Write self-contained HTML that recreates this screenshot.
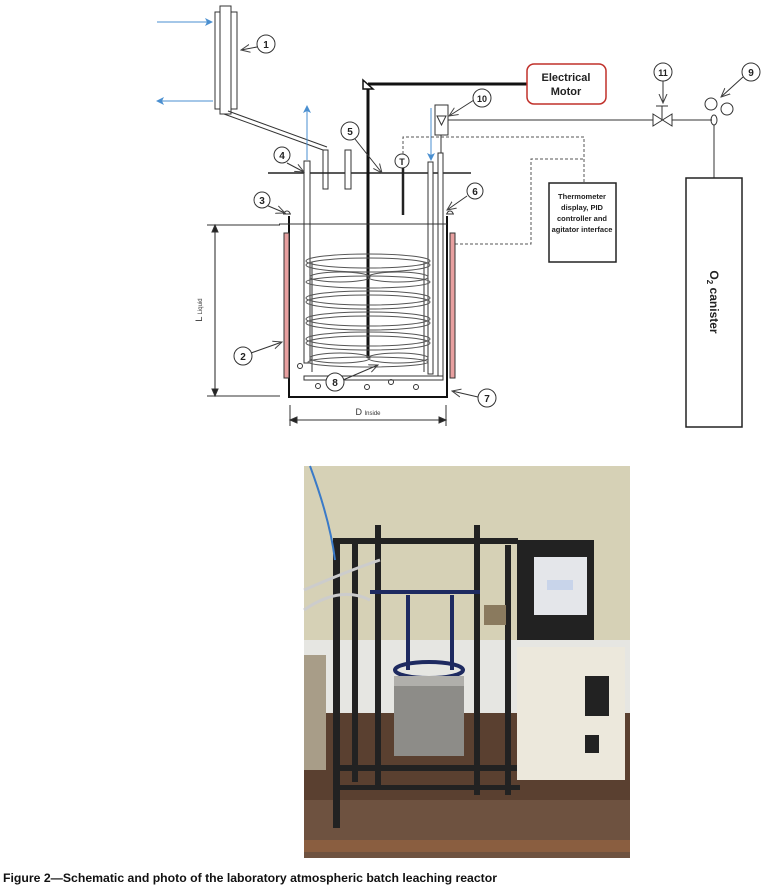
<!DOCTYPE html>
<html><head><meta charset="utf-8"><style>
html,body{margin:0;padding:0;background:#fff;width:767px;height:888px;overflow:hidden}
svg{position:absolute;left:0;top:0}
text{font-family:"Liberation Sans",sans-serif}
</style></head><body>
<svg width="767" height="888" viewBox="0 0 767 888">
<defs>
<marker id="ab" markerWidth="8" markerHeight="8" refX="7" refY="4" orient="auto" markerUnits="userSpaceOnUse"><path d="M0,0 L8,4 L0,8 L2,4 Z" fill="#4a8fd0"/></marker>
<marker id="ak" markerWidth="8" markerHeight="8" refX="7" refY="4" orient="auto" markerUnits="userSpaceOnUse"><path d="M0,1 L8,4 L0,7 Z" fill="#222"/></marker>
<marker id="av" markerWidth="10" markerHeight="10" refX="9" refY="5" orient="auto" markerUnits="userSpaceOnUse"><path d="M0,1 L9,5 L0,9" fill="none" stroke="#444" stroke-width="1"/></marker>
</defs>
<g stroke="#333" fill="none" stroke-width="1">
<!-- condenser -->
<rect x="215" y="12" width="22" height="97" fill="#fff"/>
<rect x="220" y="6" width="11" height="108" fill="#fff"/>
<path d="M224,114 L323,150 M228,111 L327,147" />
<rect x="323" y="150" width="5" height="39" fill="#fff"/>
<line x1="157" y1="22" x2="212" y2="22" stroke="#4a8fd0" marker-end="url(#ab)"/>
<line x1="213" y1="101" x2="157" y2="101" stroke="#4a8fd0" marker-end="url(#ab)"/>
<!-- lid -->
<line x1="268" y1="173" x2="471" y2="173" stroke="#222" stroke-width="1.5"/>
<rect x="304" y="161" width="6" height="202" fill="#fff"/>
<line x1="307" y1="160" x2="307" y2="106" stroke="#4a8fd0" marker-end="url(#ab)"/>
<rect x="345" y="150" width="6" height="39" fill="#fff"/>
<!-- right tubes -->
<rect x="428" y="162" width="5" height="212" fill="#fff"/>
<rect x="438" y="153" width="5" height="223" fill="#fff"/>
<path d="M304,376 L443,376 L443,380 L304,380 Z" fill="#fff"/>
<line x1="431" y1="108" x2="431" y2="160" stroke="#4a8fd0" marker-end="url(#ab)"/>
<line x1="441" y1="135" x2="441" y2="153"/>
<!-- flowmeter -->
<rect x="435" y="105" width="13" height="30" fill="#fff"/>
<path d="M437,116 L446,116 L441.5,125 Z"/>
<line x1="448" y1="120" x2="653" y2="120"/>
<!-- valve -->
<path d="M653,114 L672,126 L672,114 L653,126 Z"/>
<line x1="662" y1="120" x2="662" y2="106"/><line x1="656" y1="106" x2="668" y2="106"/>
<line x1="672" y1="120" x2="712" y2="120"/>
<circle cx="711" cy="104" r="6"/><circle cx="727" cy="109" r="6"/>
<ellipse cx="714" cy="120" rx="3" ry="5"/>
<line x1="714" y1="125" x2="714" y2="178"/>
<rect x="686" y="178" width="56" height="249" stroke-width="1.5" stroke="#222"/>
<!-- thermometer & dashed -->
<circle cx="402" cy="161" r="7" fill="#fff"/>
<line x1="403" y1="168" x2="403" y2="215" stroke="#222" stroke-width="2.5"/>
<path d="M403,154 L403,137 L584,137 L584,183 M455,244 L531,244 L531,159 L584,159" stroke-dasharray="3,2" stroke="#555"/>
<rect x="549" y="183" width="67" height="79" stroke-width="1.5" stroke="#222"/>
<!-- motor & shaft -->
<line x1="368" y1="87" x2="368" y2="358" stroke="#111" stroke-width="3"/>
<line x1="368" y1="84" x2="527" y2="84" stroke="#111" stroke-width="3"/>
<path d="M363,80 L373,89 L363,89 Z" fill="#fff" stroke="#111" stroke-width="1.5"/>
<rect x="527" y="64" width="79" height="40" rx="7" stroke="#c0302a" stroke-width="1.5" fill="#fff"/>
<!-- vessel -->
<path d="M289,216 L289,397 L447,397 L447,216" stroke="#111" stroke-width="2"/>
<line x1="279" y1="224" x2="447" y2="224"/>
<path d="M284,214 a3,3 0 0 1 6,0 Z M447,214 a3,3 0 0 1 6,0 Z" />
<line x1="283" y1="214" x2="291" y2="214"/><line x1="446" y1="214" x2="454" y2="214"/>
<rect x="284" y="233" width="5" height="145" fill="#e8a0a0"/>
<rect x="450" y="233" width="5" height="145" fill="#e8a0a0"/>
<!-- coils -->
<line x1="312" y1="262" x2="312" y2="372"/><line x1="424" y1="262" x2="424" y2="372"/>
<g stroke="#555">
<ellipse cx="368" cy="261" rx="62" ry="7"/><ellipse cx="368" cy="265" rx="62" ry="7"/>
<ellipse cx="340" cy="277" rx="30" ry="5"/><ellipse cx="398" cy="277" rx="30" ry="5"/>
<ellipse cx="368" cy="282" rx="62" ry="6"/>
<ellipse cx="368" cy="298" rx="62" ry="7"/><ellipse cx="368" cy="302" rx="62" ry="7"/>
<ellipse cx="368" cy="319" rx="62" ry="7"/><ellipse cx="368" cy="323" rx="62" ry="7"/>
<ellipse cx="368" cy="339" rx="62" ry="7"/><ellipse cx="368" cy="343" rx="62" ry="7"/>
<ellipse cx="340" cy="358" rx="30" ry="5"/><ellipse cx="398" cy="358" rx="30" ry="5"/>
<ellipse cx="368" cy="362" rx="60" ry="5"/>
</g>
<circle cx="300" cy="366" r="2.5"/><circle cx="318" cy="386" r="2.5"/><circle cx="367" cy="387" r="2.5"/><circle cx="391" cy="382" r="2.5"/><circle cx="416" cy="387" r="2.5"/>
<!-- dims -->
<line x1="207" y1="225" x2="280" y2="225"/><line x1="207" y1="396" x2="280" y2="396"/>
<line x1="215" y1="228" x2="215" y2="393" stroke="#222"/>
<path d="M212,232 L215,225 L218,232 Z M212,389 L215,396 L218,389 Z" fill="#222"/>
<line x1="290" y1="405" x2="290" y2="426"/><line x1="446" y1="405" x2="446" y2="426"/>
<line x1="292" y1="420" x2="444" y2="420"/>
<path d="M297,417 L290,420 L297,423 Z M439,417 L446,420 L439,423 Z" fill="#222"/>
<!-- leaders -->
<path d="M257,47 L241,50" marker-end="url(#av)"/>
<path d="M251,353 L282,342" marker-end="url(#av)"/>
<path d="M266,205 L285,213" marker-end="url(#av)"/>
<path d="M287,163 L304,172" marker-end="url(#av)"/>
<path d="M355,139 L382,173" marker-end="url(#av)"/>
<path d="M467,196 L447,210" marker-end="url(#av)"/>
<path d="M478,397 L452,391" marker-end="url(#av)"/>
<path d="M343,380 L378,365" marker-end="url(#av)"/>
<path d="M474,100 L449,116" marker-end="url(#av)"/>
<path d="M663,81 L663,103" marker-end="url(#av)"/>
<path d="M743,77 L721,97" marker-end="url(#av)"/>
<g fill="#fff">
<circle cx="266" cy="44" r="9"/><circle cx="243" cy="356" r="9"/><circle cx="262" cy="200" r="8"/>
<circle cx="282" cy="155" r="8"/><circle cx="350" cy="131" r="9"/><circle cx="475" cy="191" r="8"/>
<circle cx="487" cy="398" r="9"/><circle cx="335" cy="382" r="9"/><circle cx="482" cy="98" r="9"/>
<circle cx="663" cy="72" r="9"/><circle cx="751" cy="72" r="9"/>
</g>
</g>
<g font-size="10" font-weight="bold" fill="#222" text-anchor="middle">
<text x="266" y="48">1</text><text x="243" y="360">2</text><text x="262" y="204">3</text>
<text x="282" y="159">4</text><text x="350" y="135">5</text><text x="475" y="195">6</text>
<text x="487" y="402">7</text><text x="335" y="386">8</text><text x="482" y="102" font-size="9">10</text>
<text x="663" y="76" font-size="9">11</text><text x="751" y="76">9</text>
<text x="402" y="165" font-size="9">T</text>
</g>
<g fill="#222" font-weight="bold" text-anchor="middle">
<text x="566" y="81" font-size="11">Electrical</text><text x="566" y="95" font-size="11">Motor</text>
<text x="582" y="199" font-size="7.5">Thermometer</text>
<text x="582" y="210" font-size="7.5">display, PID</text>
<text x="582" y="221" font-size="7.5">controller and</text>
<text x="582" y="232" font-size="7.5">agitator interface</text>
<text transform="translate(710,302) rotate(90)" font-size="12">O<tspan font-size="8" dy="3">2</tspan><tspan dy="-3"> canister</tspan></text>
</g>
<text transform="translate(202,310) rotate(-90)" font-size="9" fill="#333" text-anchor="middle">L <tspan font-size="6">Liquid</tspan></text>
<text x="368" y="415" font-size="9" fill="#333" text-anchor="middle">D <tspan font-size="6">Inside</tspan></text>
<!-- photo -->
<g>
<rect x="304" y="466" width="326" height="392" fill="#d6d1b6"/>
<rect x="304" y="640" width="326" height="75" fill="#e6e6e2"/>
<rect x="304" y="713" width="326" height="145" fill="#5a4030"/>
<rect x="304" y="800" width="326" height="58" fill="#6e5240"/>
<rect x="304" y="840" width="326" height="12" fill="#8a5e40"/>
<rect x="304" y="655" width="22" height="115" fill="#a89d88"/>
<g fill="#222">
<rect x="333" y="538" width="185" height="6"/>
<rect x="333" y="538" width="7" height="290"/>
<rect x="352" y="542" width="6" height="240"/>
<rect x="375" y="525" width="6" height="265"/>
<rect x="474" y="525" width="6" height="270"/>
<rect x="505" y="545" width="6" height="250"/>
<rect x="333" y="765" width="185" height="6"/>
<rect x="340" y="785" width="180" height="5"/>
<rect x="517" y="540" width="77" height="100"/>
</g>
<rect x="370" y="590" width="110" height="4" fill="#1e2a60"/>
<rect x="406" y="595" width="4" height="75" fill="#1e2a60"/><rect x="450" y="595" width="4" height="75" fill="#1e2a60"/>
<ellipse cx="429" cy="670" rx="34" ry="8" fill="none" stroke="#1e2a60" stroke-width="4"/>
<rect x="394" y="676" width="70" height="80" fill="#8d8c88"/>
<rect x="394" y="676" width="70" height="10" fill="#b0afab"/>
<rect x="534" y="557" width="53" height="58" fill="#e4e6ea"/>
<rect x="547" y="580" width="26" height="10" fill="#c8d4ea"/>
<rect x="517" y="647" width="108" height="133" fill="#ece8dc"/>
<rect x="585" y="676" width="24" height="40" fill="#222"/>
<rect x="585" y="735" width="14" height="18" fill="#222"/>
<rect x="484" y="605" width="22" height="20" fill="#8a7a5e"/>
<path d="M310,466 Q330,520 335,560" stroke="#3a7ac8" stroke-width="2" fill="none"/>
<path d="M304,590 Q350,570 380,560 M304,610 Q340,585 370,600" stroke="#ccc" stroke-width="3" fill="none"/>
</g>
<text x="3" y="882" font-size="12" font-weight="bold" fill="#111" textLength="494" lengthAdjust="spacingAndGlyphs">Figure 2—Schematic and photo of the laboratory atmospheric batch leaching reactor</text>
</svg>
</body></html>
